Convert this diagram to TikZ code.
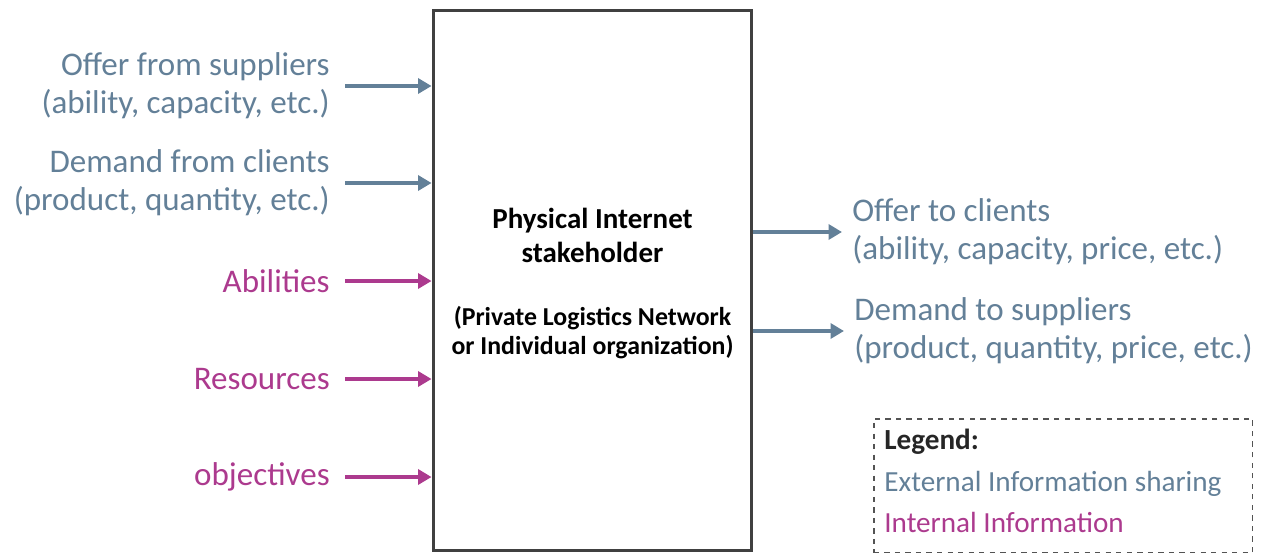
\documentclass[tikz,border=0pt]{standalone}
\usepackage{fontspec}
\setmainfont{Carlito}
\usepackage{tikz}
\usetikzlibrary{arrows.meta}

\definecolor{extColor}{RGB}{99,128,152}
\definecolor{intColor}{RGB}{172,58,142}
\definecolor{boxColor}{RGB}{64,64,64}

\begin{document}
\begin{tikzpicture}[x=0.02cm,y=-0.02cm,
  inLabel/.style={anchor=east,align=right,inner xsep=0.3cm,inner ysep=0pt,font=\fontsize{18.8}{21.6}\selectfont},
  outLabel/.style={anchor=west,align=left,inner xsep=0.2cm,inner ysep=0pt,font=\fontsize{18.8}{21.6}\selectfont},
  infoArrow/.style={line width=0.075cm,-{Triangle[length=0.27cm,width=0.3cm]}}]
\useasboundingbox (0,0) rectangle (1263,554);
% the stakeholder
\node[draw=boxColor,line width=0.06cm,minimum width=6.38cm,minimum height=10.82cm] (stakeholder) at (592.5,280.5) {};
\node[align=center,font=\fontsize{16.5}{19.3}\selectfont\bfseries] (title) at (592.5,235) {Physical Internet\\stakeholder};
\node[align=center,font=\fontsize{14.7}{16.5}\selectfont\bfseries] (subtitle) at (592.5,332.5) {(Private Logistics Network\\or Individual organization)};
% inputs
\node[inLabel,extColor] (offerIn) at (345,86) {Offer from suppliers\\(ability, capacity, etc.)};
\node[inLabel,extColor] (demandIn) at (345,183) {Demand from clients\\(product, quantity, etc.)};
\node[inLabel,intColor] (abilities) at (345,281) {Abilities};
\node[inLabel,intColor] (resources) at (345,379) {Resources};
\node[inLabel,intColor] (objectives) at (345,477) {objectives};
\draw[infoArrow,extColor] (offerIn.east) -- (offerIn.east -| stakeholder.west);
\draw[infoArrow,extColor] (demandIn.east) -- (demandIn.east -| stakeholder.west);
\foreach \n in {abilities,resources,objectives}
  \draw[infoArrow,intColor] (\n.east) -- (\n.east -| stakeholder.west);
% outputs
\node[outLabel,extColor] (offerOut) at (842,232) {Offer to clients\\(ability, capacity, price, etc.)};
\node[outLabel,extColor] (demandOut) at (844,331) {Demand to suppliers\\(product, quantity, price, etc.)};
\draw[infoArrow,extColor] (offerOut.west -| stakeholder.east) -- (offerOut.west);
\draw[infoArrow,extColor] (demandOut.west -| stakeholder.east) -- (demandOut.west);
% legend
\node[draw=boxColor!90,dashed,line width=0.03cm,minimum width=7.58cm,minimum height=2.68cm,anchor=north west] (legend) at (873,418) {};
\node[anchor=north west,align=left,inner sep=0pt,font=\fontsize{16.6}{23.5}\selectfont] (legendText) at (884,429)
  {{\color{black!85}\bfseries Legend:}\\
   {\color{extColor}External Information sharing}\\
   {\color{intColor}Internal Information}};
\end{tikzpicture}
\end{document}
